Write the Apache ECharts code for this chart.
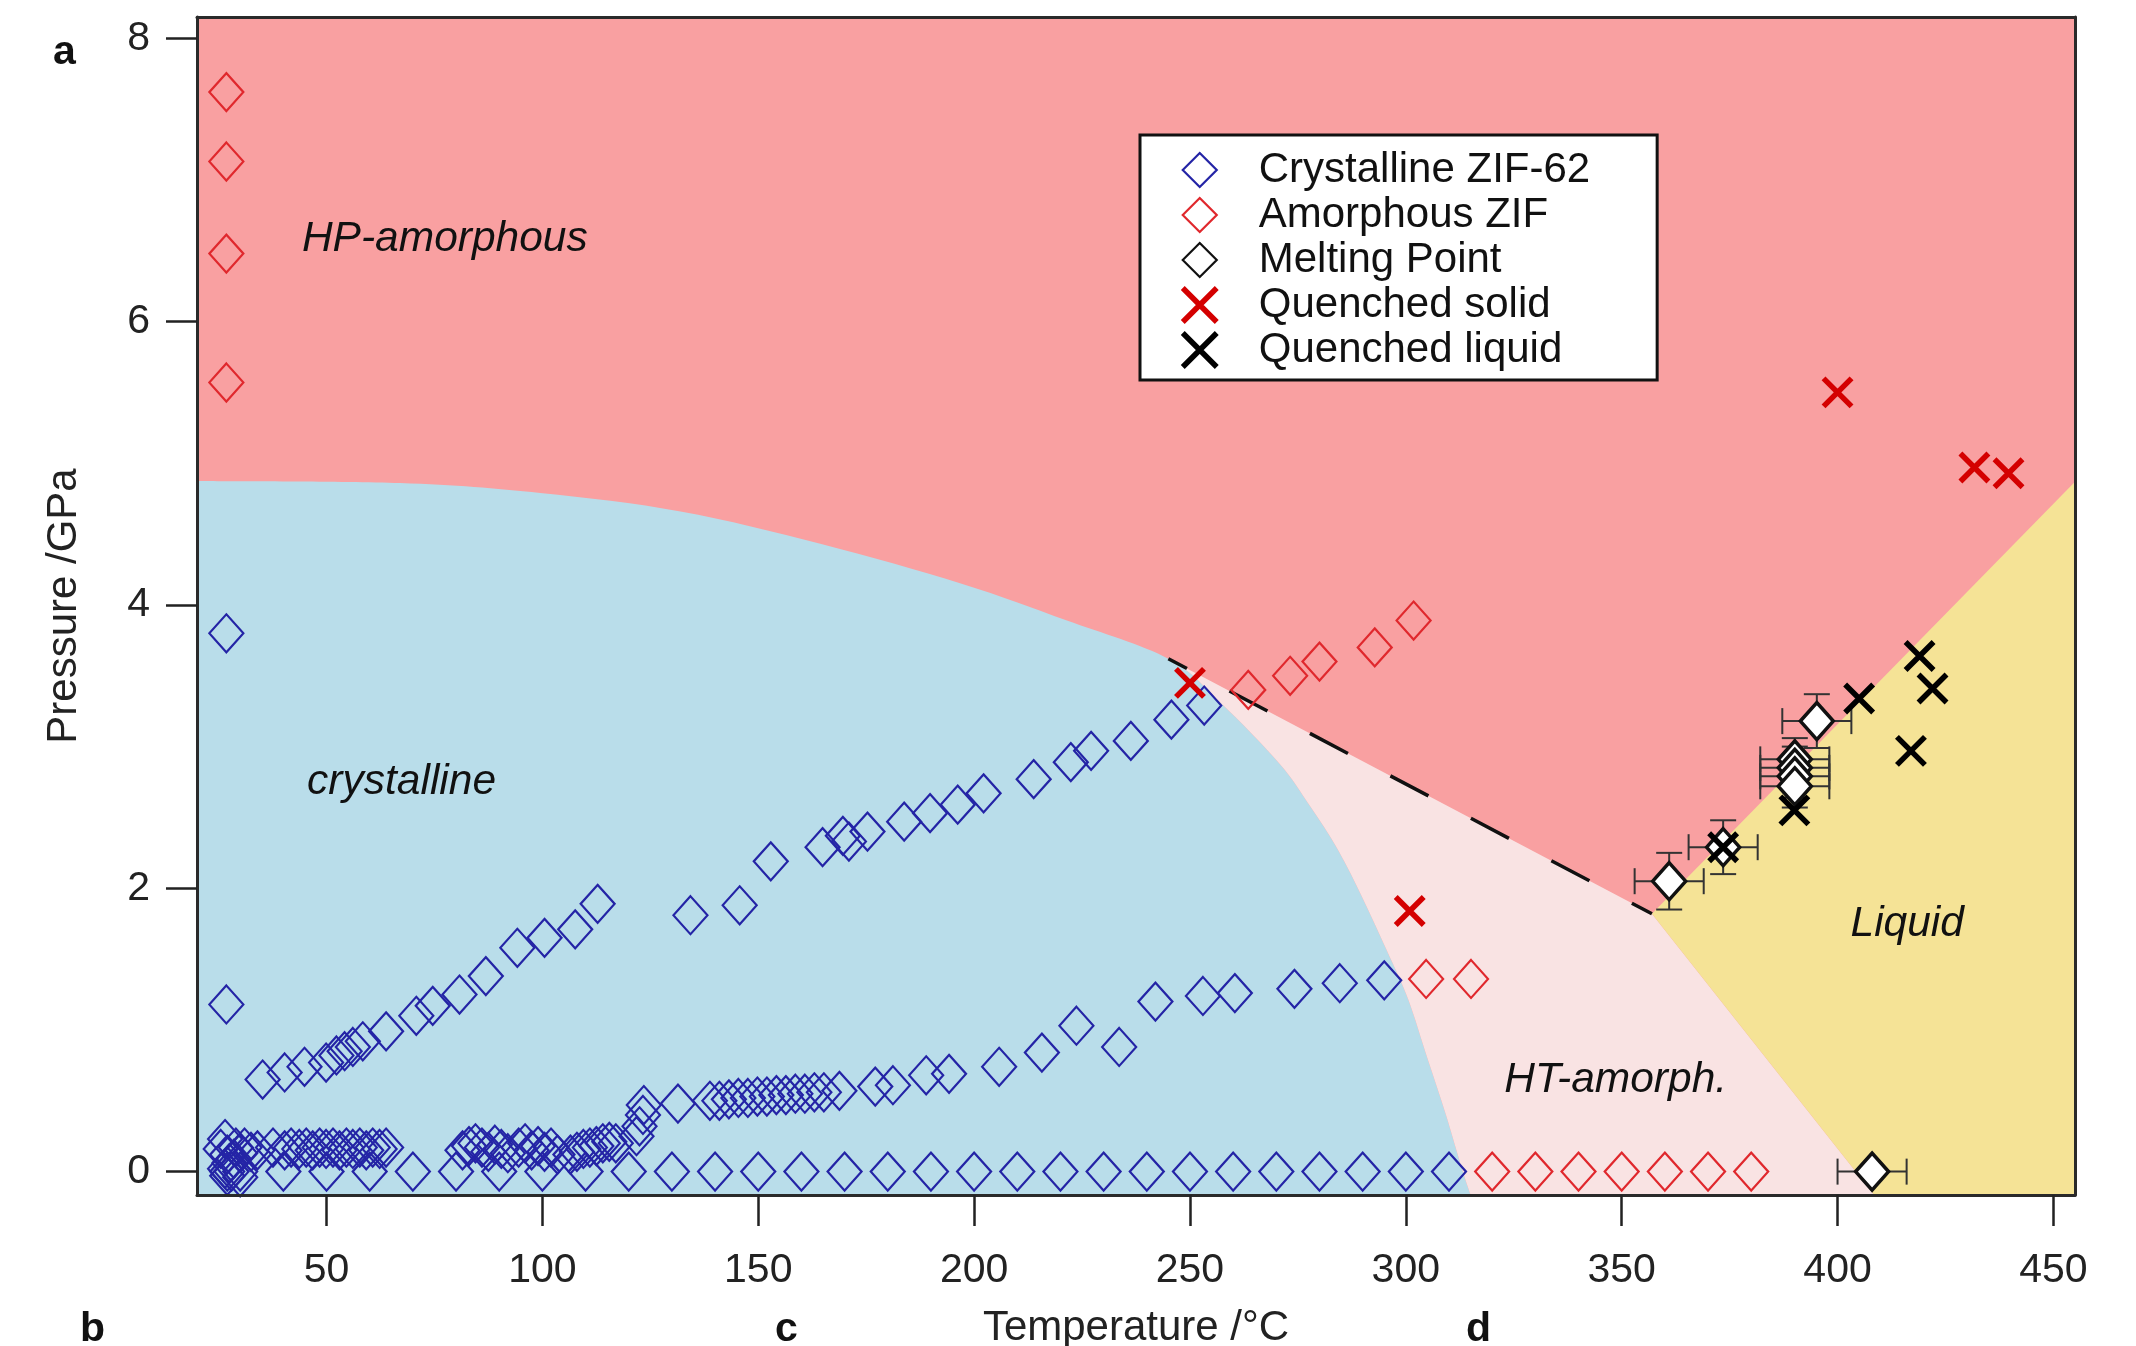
<!DOCTYPE html>
<html><head><meta charset="utf-8">
<script src="https://cdn.jsdelivr.net/npm/echarts@6/dist/echarts.min.js"></script>
<style>html,body{margin:0;padding:0;background:#fff}#c{width:2136px;height:1346px}</style>
</head><body><div id="c"></div>
<script>
// ---------- tick labels ----------
const xTicks = [50, 100, 150, 200, 250, 300, 350, 400, 450];
const yTicks = [0, 2, 4, 6, 8];
const xRange = [20, 455];
const yRange = [-0.165, 8.15];

// ---------- data (Temperature °C, Pressure GPa) ----------
const crystalline = [
  [26.8, 3.80], [26.8, 1.18],
  [25.5, 0.16], [26.5, 0.23], [27.0, 0.12], [27.5, 0.06], [26.5, 0.02], [28.0, 0.00], [27.0, -0.03],
  [28.5, 0.09], [29.0, 0.17], [30.0, 0.13], [30.0, -0.04], [31.0, 0.17], [32.5, 0.14], [34.0, 0.15],
  [37.6, 0.17], [40.3, 0.15], [41.8, 0.17], [43.7, 0.16], [45.3, 0.17], [46.8, 0.15], [48.4, 0.17],
  [49.9, 0.16], [51.5, 0.17], [53.0, 0.15], [54.6, 0.17], [56.1, 0.16], [57.7, 0.17], [59.2, 0.15],
  [60.7, 0.17], [62.3, 0.16], [63.8, 0.17],
  [81.5, 0.15], [83.0, 0.18], [84.5, 0.20], [86.0, 0.17], [87.5, 0.14], [89.0, 0.19], [90.5, 0.16],
  [92.0, 0.13], [94.5, 0.17], [96.0, 0.20], [97.5, 0.15], [99.0, 0.18], [100.5, 0.14], [102.0, 0.17],
  [103.5, 0.12],
  [106.5, 0.12], [108.0, 0.14], [109.5, 0.16], [111.0, 0.17], [112.5, 0.18], [114.0, 0.20],
  [115.5, 0.21], [117.0, 0.20],
  [121.8, 0.25], [122.5, 0.32], [123.3, 0.40], [123.5, 0.47], [131.4, 0.48],
  [138.8, 0.50], [141.0, 0.50], [143.2, 0.51], [145.4, 0.52], [147.6, 0.52], [149.8, 0.53],
  [152.0, 0.53], [154.2, 0.54], [156.4, 0.54], [158.6, 0.55], [160.8, 0.55], [163.0, 0.56],
  [165.2, 0.56], [168.8, 0.57], [177.1, 0.60], [181.2, 0.61], [188.9, 0.68], [194.2, 0.69],
  [205.8, 0.74], [215.7, 0.84], [223.7, 1.03], [233.6, 0.88], [242.0, 1.20], [253.0, 1.24],
  [260.4, 1.26], [274.2, 1.29], [284.7, 1.33], [295.0, 1.35],
  [35.2, 0.65], [40.3, 0.70], [44.9, 0.74], [49.9, 0.77], [52.3, 0.82], [54.2, 0.85], [56.1, 0.88],
  [58.4, 0.92], [63.8, 0.99], [70.8, 1.10], [74.6, 1.17], [80.8, 1.25], [86.9, 1.38], [94.2, 1.58],
  [100.5, 1.65], [107.6, 1.71], [112.8, 1.89], [134.3, 1.81], [145.7, 1.88], [152.9, 2.19],
  [164.9, 2.29], [169.6, 2.37], [171.0, 2.33], [175.3, 2.40], [183.8, 2.47], [189.8, 2.53],
  [196.2, 2.59], [202.2, 2.67], [213.8, 2.77], [222.4, 2.89], [227.1, 2.97], [236.3, 3.04],
  [245.7, 3.19], [253.3, 3.29],
  [27, 0], [30, 0], [40, 0], [50, 0], [60, 0], [70, 0], [80, 0], [90, 0], [100, 0], [110, 0], [120, 0],
  [130, 0], [140, 0], [150, 0], [160, 0], [170, 0], [180, 0], [190, 0], [200, 0], [210, 0],
  [220, 0], [230, 0], [240, 0], [250, 0], [260, 0], [270, 0], [280, 0], [290, 0], [300, 0], [310, 0]
];
const amorphous = [
  [26.8, 7.62], [26.8, 7.13], [26.8, 6.48], [26.8, 5.57],
  [263.5, 3.40], [273.2, 3.50], [280.0, 3.60], [292.8, 3.70], [301.8, 3.89],
  [304.7, 1.36], [315.1, 1.36],
  [320, 0], [330, 0], [340, 0], [350, 0], [360, 0], [370, 0], [380, 0]
];
// [T, P, T error, P error]
const meltingPoint = [
  [361.0, 2.05, 8, 0.20], [373.5, 2.29, 8, 0.19], [395.2, 3.18, 8, 0.19],
  [390.1, 2.91, 8, 0.15], [390.1, 2.85, 8, 0.15], [390.1, 2.79, 8, 0.15], [390.1, 2.72, 8, 0.15],
  [408.0, 0.00, 8, 0]
];
const quenchedSolid = [[250.0, 3.45], [300.9, 1.84], [400.0, 5.50], [431.7, 4.97], [439.6, 4.93]];
const quenchedLiquid = [[419.0, 3.64], [422.0, 3.41], [405.0, 3.34], [417.0, 2.97], [390.0, 2.55], [373.5, 2.29]];

// ---------- phase boundaries ----------
const crystallineBoundary = [
  [20, 4.875], [67, 4.86], [99.5, 4.79], [132, 4.66], [164.6, 4.43], [197.1, 4.15], [221.5, 3.89],
  [245, 3.62], [257.4, 3.30], [270.7, 2.88], [277.8, 2.58], [284.3, 2.27], [290, 1.93], [295.6, 1.56],
  [300.5, 1.22], [305.0, 0.80], [309.3, 0.40], [313.2, 0], [315, -0.165]
];
const dashedBoundary = [[245, 3.62], [357, 1.82]];
const liquidUpperBoundary = [[357, 1.82], [455, 4.87]];
const liquidLowerBoundary = [[357, 1.82], [408.5, -0.165]];

const regionLabels = [
  [44.3, 6.58, 'HP-amorphous'],
  [45.5, 2.75, 'crystalline'],
  [322.8, 0.645, 'HT-amorph.'],
  [403.0, 1.75, 'Liquid']
];

// ---------- build ----------
const FONT = '"Liberation Sans", Arial, Helvetica, sans-serif';
const chart = echarts.init(document.getElementById('c'), null, {renderer: 'canvas'});

const junctionIdx = crystallineBoundary.findIndex(p => p[0] === dashedBoundary[0][0] && p[1] === dashedBoundary[0][1]);

// smooth curve (Catmull-Rom drawn as cubic Beziers) through pixel points of the boundary
function splineSegments(px) {
  const segs = [];
  for (let i = 0; i < px.length - 1; i++) {
    const p0 = px[Math.max(i - 1, 0)], p1 = px[i], p2 = px[i + 1], p3 = px[Math.min(i + 2, px.length - 1)];
    const c1 = [p1[0] + (p2[0] - p0[0]) / 6, p1[1] + (p2[1] - p0[1]) / 6];
    const c2 = [p2[0] - (p3[0] - p1[0]) / 6, p2[1] - (p3[1] - p1[1]) / 6];
    segs.push('C' + c1[0] + ',' + c1[1] + ' ' + c2[0] + ',' + c2[1] + ' ' + p2[0] + ',' + p2[1]);
  }
  return segs;
}
function pt(p) { return p[0] + ',' + p[1]; }

function regionSeries(name, color, builder) {
  return {
    type: 'custom', name: name, silent: true, z: 1, clip: true,
    data: [[xRange[0], yRange[0]]],
    renderItem: function (params, api) {
      return {type: 'path', shape: {pathData: builder(api)}, style: {fill: color}};
    }
  };
}

const hpPath = api => {
  const a = api.coord([xRange[0], yRange[0]]), b = api.coord([xRange[1], yRange[0]]),
        c = api.coord([xRange[1], yRange[1]]), d = api.coord([xRange[0], yRange[1]]);
  return 'M' + pt(a) + 'L' + pt(b) + 'L' + pt(c) + 'L' + pt(d) + 'Z';
};
const crystPath = api => {
  const px = crystallineBoundary.map(p => api.coord(p));
  const corner = api.coord([xRange[0], yRange[0]]);
  return 'M' + pt(corner) + 'L' + pt(px[0]) + splineSegments(px).join('') + 'Z';
};
const htPath = api => {
  const px = crystallineBoundary.map(p => api.coord(p));
  const segs = splineSegments(px).slice(junctionIdx);
  return 'M' + pt(px[junctionIdx]) + segs.join('') + 'L' + pt(api.coord(liquidLowerBoundary[1])) +
         'L' + pt(api.coord(dashedBoundary[1])) + 'Z';
};
const liquidPath = api => {
  return 'M' + pt(api.coord(liquidUpperBoundary[0])) + 'L' + pt(api.coord(liquidUpperBoundary[1])) +
         'L' + pt(api.coord([xRange[1], yRange[0]])) + 'L' + pt(api.coord(liquidLowerBoundary[1])) + 'Z';
};

const X_PATH = 'path://M0,0L20,20M20,0L0,20';

const option = {
  animation: false,
  backgroundColor: '#ffffff',
  grid: {left: 197, right: 61, top: 17, bottom: 151, containLabel: false, outerBoundsMode: 'none'},
  xAxis: [{
    type: 'value', min: xRange[0], max: xRange[1], position: 'bottom', z: 10,
    axisLine: {show: true, onZero: false, lineStyle: {color: '#2a2a2a', width: 3}},
    axisTick: {show: true, inside: false, length: 31, customValues: xTicks, lineStyle: {color: '#222', width: 2.5}},
    axisLabel: {show: true, margin: 55, customValues: xTicks, fontSize: 41, color: '#222', fontFamily: FONT},
    splitLine: {show: false},
    name: 'Temperature /°C', nameLocation: 'middle', nameGap: 112,
    nameTextStyle: {fontSize: 42, color: '#222', fontFamily: FONT}
  }, {
    type: 'value', min: xRange[0], max: xRange[1], position: 'top', z: 10,
    axisLine: {show: true, onZero: false, lineStyle: {color: '#2a2a2a', width: 3}},
    axisTick: {show: false}, axisLabel: {show: false}, splitLine: {show: false}
  }],
  yAxis: [{
    type: 'value', min: yRange[0], max: yRange[1], position: 'left', z: 10,
    axisLine: {show: true, onZero: false, lineStyle: {color: '#2a2a2a', width: 3}},
    axisTick: {show: true, inside: false, length: 31, customValues: yTicks, lineStyle: {color: '#222', width: 2.5}},
    axisLabel: {show: true, margin: 47, customValues: yTicks, fontSize: 41, color: '#222', fontFamily: FONT},
    splitLine: {show: false},
    name: 'Pressure /GPa', nameLocation: 'middle', nameGap: 112,
    nameTextStyle: {fontSize: 42, color: '#222', fontFamily: FONT}
  }, {
    type: 'value', min: yRange[0], max: yRange[1], position: 'right', z: 10,
    axisLine: {show: true, onZero: false, lineStyle: {color: '#2a2a2a', width: 3}},
    axisTick: {show: false}, axisLabel: {show: false}, splitLine: {show: false}
  }],
  legend: {
    orient: 'vertical', left: 1140, top: 135, z: 20,
    padding: [14, 67, 9, 40],
    itemWidth: 34, itemHeight: 34, itemGap: 3,
    backgroundColor: '#ffffff', borderColor: '#111', borderWidth: 3,
    selectedMode: false,
    textStyle: {fontSize: 42, color: '#111', fontFamily: FONT, padding: [0, 0, 0, 37]},
    data: [
      {name: 'Crystalline ZIF-62', itemStyle: {borderWidth: 2.2}},
      {name: 'Amorphous ZIF', itemStyle: {borderWidth: 2.2}},
      {name: 'Melting Point', itemStyle: {borderWidth: 2.2}},
      {name: 'Quenched solid', itemStyle: {borderWidth: 5.5}},
      {name: 'Quenched liquid', itemStyle: {borderWidth: 5.5}}
    ]
  },
  series: [
    regionSeries('HP-amorphous region', '#F9A0A1', hpPath),
    regionSeries('crystalline region', '#B9DDEA', crystPath),
    regionSeries('HT-amorph region', '#F9E3E3', htPath),
    regionSeries('Liquid region', '#F5E396', liquidPath),
    {
      type: 'line', name: 'boundary', data: dashedBoundary, symbol: 'none', z: 2, silent: true,
      lineStyle: {color: '#111', width: 3.5, type: [43, 48], dashOffset: 22}
    },
    {
      type: 'custom', name: 'error bars', z: 3, silent: true, data: meltingPoint,
      encode: {x: 0, y: 1},
      renderItem: function (params, api) {
        const t = api.value(0), p = api.value(1), ex = api.value(2), ey = api.value(3);
        const cap = 13;
        const st = {stroke: '#333', lineWidth: 2};
        const l = api.coord([t - ex, p]), r = api.coord([t + ex, p]);
        const ch = [
          {type: 'line', shape: {x1: l[0], y1: l[1], x2: r[0], y2: r[1]}, style: st},
          {type: 'line', shape: {x1: l[0], y1: l[1] - cap, x2: l[0], y2: l[1] + cap}, style: st},
          {type: 'line', shape: {x1: r[0], y1: r[1] - cap, x2: r[0], y2: r[1] + cap}, style: st}
        ];
        if (ey > 0) {
          const tp = api.coord([t, p + ey]), bt = api.coord([t, p - ey]);
          ch.push({type: 'line', shape: {x1: tp[0], y1: tp[1], x2: bt[0], y2: bt[1]}, style: st});
          ch.push({type: 'line', shape: {x1: tp[0] - cap, y1: tp[1], x2: tp[0] + cap, y2: tp[1]}, style: st});
          ch.push({type: 'line', shape: {x1: bt[0] - cap, y1: bt[1], x2: bt[0] + cap, y2: bt[1]}, style: st});
        }
        return {type: 'group', children: ch};
      }
    },
    {
      type: 'scatter', name: 'Crystalline ZIF-62', data: crystalline, z: 4, silent: true,
      symbol: 'diamond', symbolSize: [34, 38],
      itemStyle: {color: 'rgba(0,0,0,0)', borderColor: '#2424A6', borderWidth: 2.2, opacity: 1}
    },
    {
      type: 'scatter', name: 'Amorphous ZIF', data: amorphous, z: 4, silent: true,
      symbol: 'diamond', symbolSize: [34, 38],
      itemStyle: {color: 'rgba(0,0,0,0)', borderColor: '#E0282D', borderWidth: 2.2, opacity: 1}
    },
    {
      type: 'scatter', name: 'Melting Point', data: meltingPoint.map(d => [d[0], d[1]]), z: 5, silent: true,
      symbol: 'diamond', symbolSize: [33, 37],
      itemStyle: {color: '#ffffff', borderColor: '#111', borderWidth: 3.5, opacity: 1}
    },
    {
      type: 'scatter', name: 'Quenched solid', data: quenchedSolid, z: 6, silent: true,
      symbol: X_PATH, symbolSize: 28,
      itemStyle: {color: 'rgba(0,0,0,0)', borderColor: '#D40000', borderWidth: 5.5, opacity: 1}
    },
    {
      type: 'scatter', name: 'Quenched liquid', data: quenchedLiquid, z: 6, silent: true,
      symbol: X_PATH, symbolSize: 28,
      itemStyle: {color: 'rgba(0,0,0,0)', borderColor: '#000', borderWidth: 5.5, opacity: 1}
    },
    {
      type: 'scatter', name: 'region labels', z: 7, silent: true,
      data: regionLabels.map(d => ({value: [d[0], d[1]], name: d[2]})),
      symbolSize: 0, itemStyle: {opacity: 1},
      label: {show: true, position: 'right', distance: 0, formatter: '{b}', opacity: 1,
        fontSize: 42.5, fontStyle: 'italic', color: '#111', fontFamily: FONT}
    }
  ],
  graphic: [
    {type: 'text', left: 53, top: 32, z: 30, style: {text: 'a', font: 'bold 41px ' + FONT, fill: '#111'}},
    {type: 'text', left: 80, top: 1309, z: 30, style: {text: 'b', font: 'bold 41px ' + FONT, fill: '#111'}},
    {type: 'text', left: 775, top: 1309, z: 30, style: {text: 'c', font: 'bold 41px ' + FONT, fill: '#111'}},
    {type: 'text', left: 1466, top: 1309, z: 30, style: {text: 'd', font: 'bold 41px ' + FONT, fill: '#111'}}
  ]
};
chart.setOption(option);
</script>
</body></html>
